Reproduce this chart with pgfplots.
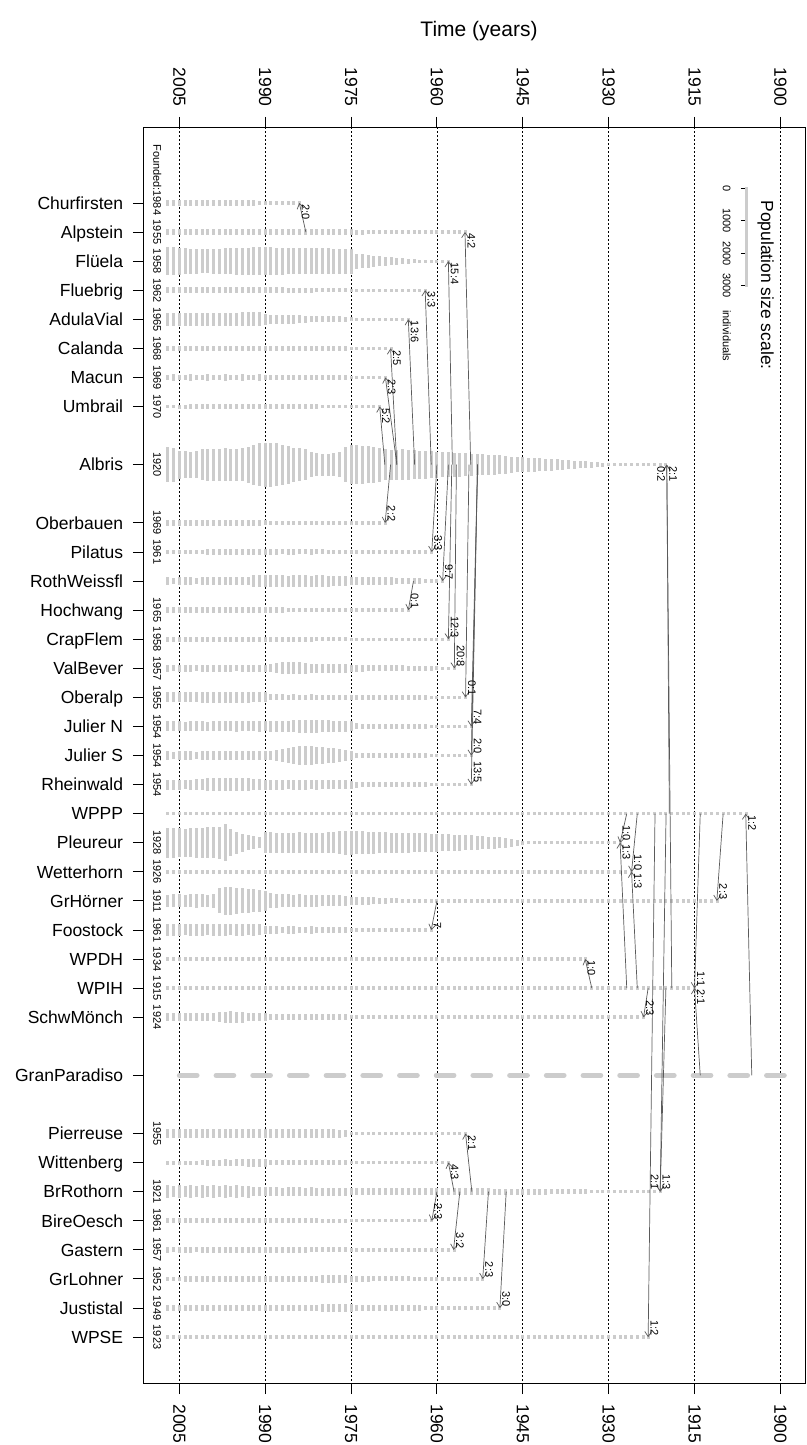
\documentclass[border=0pt]{standalone}
\usepackage{pgfplots}
\pgfplotsset{compat=1.18}
\usepackage{fontspec}
\setmainfont{Liberation Sans}
\usetikzlibrary{arrows.meta}
\definecolor{bargray}{RGB}{204,204,204}
\definecolor{arrgray}{RGB}{90,90,90}
\pgfplotsset{
  base/.style={at={(143.3pt,61.4pt)}, anchor=south west,
    scale only axis, width=661.7pt, height=1256.2pt,
    xmin=1895.7, xmax=2011.3, x dir=reverse,
    ymin=-2.6, ymax=40.6, y dir=reverse},
  popbar/.style={forget plot, draw=bargray, line width=3pt, line cap=rect, solid,
    quiver={u=0, v=\thisrow{n}*0.0011176}},
  arr/.style={forget plot, draw=arrgray, line width=0.7pt, solid, mark=none,
    -{Straight Barb[length=5pt,width=7pt]}},
}
\tikzset{
  lab/.style={font=\fontsize{11}{12}\selectfont, rotate=-90, inner sep=0pt, text=black},
}
% bar from (row - n*SF) to (row + n*SF): 1000 individuals = 32.5 px
\newcommand\SF{0.0005588}
\begin{document}
\begin{tikzpicture}
\useasboundingbox (0,0) rectangle (806pt,1445pt);
% ---------- axis 1: frame, ticks, grid, rows 0-9 ----------
\begin{axis}[base,
  axis line style={line width=0.9pt},
  tick align=outside, major tick length=10.5pt,
  every tick/.style={black, line width=0.9pt},
  xtick={1900,1915,1930,1945,1960,1975,1990,2005},
  xtick pos=left, xticklabel pos=left, ytick pos=left,
  ytick={0,1,2,3,4,5,6,7,9,11,12,13,14,15,16,17,18,19,20,21,22,23,24,25,26,27,28,30,32,33,34,35,36,37,38,39},
  yticklabels={Churfirsten,Alpstein,Flüela,Fluebrig,AdulaVial,Calanda,Macun,Umbrail,Albris,Oberbauen,Pilatus,RothWeissfl,Hochwang,CrapFlem,ValBever,Oberalp,Julier N,Julier S,Rheinwald,WPPP,Pleureur,Wetterhorn,GrHörner,Foostock,WPDH,WPIH,SchwMönch,GranParadiso,Pierreuse,Wittenberg,BrRothorn,BireOesch,Gastern,GrLohner,Justistal,WPSE},
  xmajorgrids, major grid style={black, line width=0.8pt, dash pattern=on 1.2pt off 2.8pt},
  /pgf/number format/1000 sep={}, /pgf/number format/assume math mode=true,
  tick label style={font=\fontsize{17.5}{18}\selectfont},
  xticklabel style={rotate=-90, anchor=west, inner xsep=10pt, inner ysep=0pt},
  yticklabel style={anchor=east, inner xsep=9.5pt, inner ysep=0pt, text height=12.5pt, text depth=0pt},
]
\addplot[popbar] table[row sep=\\, x=yr, y expr=0-\thisrow{n}*\SF]{yr n\\2007 110\\2006 110\\2005 105\\2004 110\\2003 100\\2002 105\\2001 100\\2000 100\\1999 95\\1998 100\\1997 95\\1996 90\\1995 90\\1994 85\\1993 80\\1992 70\\1991 60\\1990 45\\1989 30\\1988 20\\1987 15\\1986 10\\1985 10\\1984 10\\};
\addplot[popbar] table[row sep=\\, x=yr, y expr=1-\thisrow{n}*\SF]{yr n\\2007 110\\2006 105\\2005 110\\2004 105\\2003 100\\2002 105\\2001 110\\2000 105\\1999 100\\1998 105\\1997 110\\1996 105\\1995 100\\1994 105\\1993 110\\1992 105\\1991 100\\1990 105\\1989 100\\1988 100\\1987 95\\1986 100\\1985 95\\1984 95\\1983 90\\1982 95\\1981 90\\1980 90\\1979 85\\1978 85\\1977 80\\1976 80\\1975 70\\1974 65\\1973 60\\1972 55\\1971 50\\1970 40\\1969 30\\1968 20\\1967 15\\1966 15\\1965 15\\1964 15\\1963 15\\1962 15\\1961 15\\1960 15\\1959 15\\1958 15\\1957 15\\1956 15\\1955 15\\};
\addplot[popbar] table[row sep=\\, x=yr, y expr=2-\thisrow{n}*\SF]{yr n\\2007 775\\2006 775\\2005 745\\2004 715\\2003 680\\2002 680\\2001 650\\2000 650\\1999 680\\1998 680\\1997 715\\1996 715\\1995 745\\1994 745\\1993 745\\1992 775\\1991 775\\1990 775\\1989 775\\1988 745\\1987 745\\1986 715\\1985 715\\1984 715\\1983 715\\1982 715\\1981 715\\1980 715\\1979 715\\1978 680\\1977 680\\1976 680\\1975 680\\1974 370\\1973 340\\1972 310\\1971 250\\1970 215\\1969 185\\1968 155\\1967 125\\1966 95\\1965 60\\1964 30\\1963 10\\1962 10\\1961 10\\1960 10\\1959 10\\1958 10\\};
\addplot[popbar] table[row sep=\\, x=yr, y expr=3-\thisrow{n}*\SF]{yr n\\2007 95\\2006 90\\2005 90\\2004 95\\2003 90\\2002 90\\2001 95\\2000 90\\1999 90\\1998 95\\1997 90\\1996 90\\1995 95\\1994 90\\1993 90\\1992 95\\1991 90\\1990 90\\1989 85\\1988 80\\1987 80\\1986 75\\1985 55\\1984 50\\1983 50\\1982 50\\1981 45\\1980 45\\1979 45\\1978 40\\1977 40\\1976 40\\1975 10\\1974 10\\1973 10\\1972 10\\1971 10\\1970 10\\1969 10\\1968 10\\1967 10\\1966 10\\1965 10\\1964 10\\1963 10\\1962 10\\};
\addplot[popbar] table[row sep=\\, x=yr, y expr=4-\thisrow{n}*\SF]{yr n\\2007 310\\2006 300\\2005 320\\2004 310\\2003 290\\2002 300\\2001 310\\2000 320\\1999 310\\1998 300\\1997 310\\1996 320\\1995 310\\1994 330\\1993 340\\1992 340\\1991 330\\1990 230\\1989 200\\1988 185\\1987 185\\1986 175\\1985 170\\1984 160\\1983 110\\1982 100\\1981 95\\1980 95\\1979 90\\1978 90\\1977 85\\1976 80\\1975 20\\1974 15\\1973 15\\1972 15\\1971 15\\1970 15\\1969 15\\1968 15\\1967 15\\1966 15\\1965 15\\};
\addplot[popbar] table[row sep=\\, x=yr, y expr=5-\thisrow{n}*\SF]{yr n\\2007 80\\2006 75\\2005 80\\2004 75\\2003 70\\2002 75\\2001 80\\2000 75\\1999 70\\1998 75\\1997 80\\1996 75\\1995 70\\1994 75\\1993 80\\1992 80\\1991 75\\1990 80\\1989 75\\1988 70\\1987 75\\1986 70\\1985 70\\1984 65\\1983 65\\1982 60\\1981 60\\1980 60\\1979 55\\1978 55\\1977 50\\1976 50\\1975 10\\1974 10\\1973 10\\1972 10\\1971 10\\1970 10\\1969 10\\1968 10\\};
\addplot[popbar] table[row sep=\\, x=yr, y expr=6-\thisrow{n}*\SF]{yr n\\2007 90\\2006 95\\2005 90\\2004 90\\2003 95\\2002 90\\2001 90\\2000 95\\1999 90\\1998 90\\1997 95\\1996 90\\1995 90\\1994 95\\1993 90\\1992 90\\1991 95\\1990 90\\1989 90\\1988 85\\1987 85\\1986 80\\1985 50\\1984 45\\1983 45\\1982 45\\1981 40\\1980 40\\1979 40\\1978 40\\1977 35\\1976 35\\1975 10\\1974 10\\1973 10\\1972 10\\1971 10\\1970 10\\1969 10\\};
\addplot[popbar] table[row sep=\\, x=yr, y expr=7-\thisrow{n}*\SF]{yr n\\2007 25\\2006 25\\2005 30\\2004 30\\2003 60\\2002 65\\2001 65\\2000 60\\1999 65\\1998 65\\1997 60\\1996 65\\1995 70\\1994 70\\1993 75\\1992 75\\1991 80\\1990 80\\1989 75\\1988 70\\1987 65\\1986 65\\1985 60\\1984 60\\1983 55\\1982 50\\1981 45\\1980 10\\1979 10\\1978 10\\1977 10\\1976 10\\1975 10\\1974 10\\1973 10\\1972 10\\1971 10\\1970 10\\};
\addplot[popbar] table[row sep=\\, x=yr, y expr=9-\thisrow{n}*\SF]{yr n\\2007 990\\2006 960\\2005 775\\2004 745\\2003 715\\2002 745\\2001 870\\2000 900\\1999 900\\1998 900\\1997 930\\1996 900\\1995 900\\1994 930\\1993 1025\\1992 1150\\1991 1240\\1990 1270\\1989 1270\\1988 1240\\1987 1150\\1986 1085\\1985 960\\1984 930\\1983 870\\1982 680\\1981 620\\1980 590\\1979 590\\1978 620\\1977 680\\1976 990\\1975 1115\\1974 1115\\1973 1085\\1972 1055\\1971 1025\\1970 960\\1969 870\\1968 835\\1967 835\\1966 870\\1965 835\\1964 805\\1963 775\\1962 775\\1961 745\\1960 715\\1959 680\\1958 680\\1957 650\\1956 650\\1955 620\\1954 590\\1953 560\\1952 560\\1951 525\\1950 525\\1949 495\\1948 465\\1947 405\\1946 370\\1945 370\\1944 340\\1943 340\\1942 310\\1941 280\\1940 280\\1939 250\\1938 215\\1937 185\\1936 155\\1935 125\\1934 125\\1933 95\\1932 60\\1931 30\\1930 10\\1929 10\\1928 10\\1927 10\\1926 10\\1925 10\\1924 10\\1923 10\\1922 10\\1921 10\\1920 10\\};
\end{axis}
% ---------- axis 2: rows 11-20 ----------
\begin{axis}[base, hide axis]
\addplot[popbar] table[row sep=\\, x=yr, y expr=11-\thisrow{n}*\SF]{yr n\\2007 75\\2006 70\\2005 75\\2004 80\\2003 75\\2002 70\\2001 75\\2000 80\\1999 80\\1998 75\\1997 80\\1996 85\\1995 90\\1994 90\\1993 85\\1992 80\\1991 70\\1990 60\\1989 45\\1988 35\\1987 12\\1986 12\\1985 12\\1984 12\\1983 12\\1982 12\\1981 12\\1980 12\\1979 12\\1978 12\\1977 12\\1976 12\\1975 12\\1974 12\\1973 12\\1972 12\\1971 12\\1970 12\\1969 12\\};
\addplot[popbar] table[row sep=\\, x=yr, y expr=12-\thisrow{n}*\SF]{yr n\\2007 35\\2006 30\\2005 35\\2004 30\\2003 40\\2002 45\\2001 55\\2000 65\\1999 65\\1998 70\\1997 65\\1996 70\\1995 75\\1994 75\\1993 80\\1992 75\\1991 70\\1990 70\\1989 65\\1988 65\\1987 60\\1986 65\\1985 65\\1984 60\\1983 60\\1982 65\\1981 60\\1980 60\\1979 55\\1978 55\\1977 50\\1976 50\\1975 10\\1974 10\\1973 10\\1972 10\\1971 10\\1970 10\\1969 10\\1968 10\\1967 10\\1966 10\\1965 10\\1964 10\\1963 10\\1962 10\\1961 10\\};
\addplot[popbar] table[row sep=\\, x=yr, y expr=13-\thisrow{n}*\SF]{yr n\\2007 125\\2006 120\\2005 125\\2004 130\\2003 125\\2002 120\\2001 125\\2000 130\\1999 125\\1998 130\\1997 125\\1996 130\\1995 135\\1994 140\\1993 150\\1992 250\\1991 290\\1990 280\\1989 260\\1988 250\\1987 250\\1986 245\\1985 250\\1984 255\\1983 250\\1982 245\\1981 250\\1980 250\\1979 245\\1978 240\\1977 240\\1976 235\\1975 165\\1974 160\\1973 155\\1972 150\\1971 150\\1970 145\\1969 140\\1968 135\\1967 95\\1966 90\\1965 85\\1964 80\\1963 70\\1962 30\\1961 25\\1960 20\\1959 15\\};
\addplot[popbar] table[row sep=\\, x=yr, y expr=14-\thisrow{n}*\SF]{yr n\\2007 80\\2006 75\\2005 80\\2004 85\\2003 80\\2002 75\\2001 80\\2000 85\\1999 80\\1998 75\\1997 80\\1996 85\\1995 80\\1994 80\\1993 85\\1992 80\\1991 80\\1990 75\\1989 75\\1988 70\\1987 70\\1986 45\\1985 40\\1984 40\\1983 40\\1982 40\\1981 40\\1980 35\\1979 35\\1978 35\\1977 35\\1976 30\\1975 10\\1974 10\\1973 10\\1972 10\\1971 10\\1970 10\\1969 10\\1968 10\\1967 10\\1966 10\\1965 10\\};
\addplot[popbar] table[row sep=\\, x=yr, y expr=15-\thisrow{n}*\SF]{yr n\\2007 65\\2006 60\\2005 65\\2004 65\\2003 60\\2002 65\\2001 70\\2000 65\\1999 60\\1998 65\\1997 70\\1996 65\\1995 65\\1994 70\\1993 70\\1992 65\\1991 65\\1990 70\\1989 65\\1988 60\\1987 65\\1986 60\\1985 60\\1984 55\\1983 55\\1982 55\\1981 50\\1980 50\\1979 50\\1978 45\\1977 45\\1976 45\\1975 10\\1974 10\\1973 10\\1972 10\\1971 10\\1970 10\\1969 10\\1968 10\\1967 10\\1966 10\\1965 10\\1964 10\\1963 10\\1962 10\\1961 10\\1960 10\\1959 10\\1958 10\\};
\addplot[popbar] table[row sep=\\, x=yr, y expr=16-\thisrow{n}*\SF]{yr n\\2007 110\\2006 105\\2005 110\\2004 115\\2003 110\\2002 105\\2001 110\\2000 115\\1999 110\\1998 110\\1997 115\\1996 110\\1995 105\\1994 110\\1993 115\\1992 120\\1991 125\\1990 130\\1989 150\\1988 220\\1987 265\\1986 275\\1985 280\\1984 270\\1983 260\\1982 200\\1981 190\\1980 190\\1979 185\\1978 180\\1977 180\\1976 175\\1975 115\\1974 110\\1973 110\\1972 105\\1971 105\\1970 100\\1969 100\\1968 95\\1967 95\\1966 90\\1965 65\\1964 60\\1963 60\\1962 55\\1961 50\\1960 45\\1959 15\\1958 15\\1957 15\\};
\addplot[popbar] table[row sep=\\, x=yr, y expr=17-\thisrow{n}*\SF]{yr n\\2007 215\\2006 210\\2005 215\\2004 220\\2003 215\\2002 225\\2001 235\\2000 250\\1999 255\\1998 250\\1997 245\\1996 250\\1995 240\\1994 235\\1993 230\\1992 220\\1991 215\\1990 210\\1989 90\\1988 85\\1987 85\\1986 80\\1985 85\\1984 80\\1983 80\\1982 85\\1981 80\\1980 80\\1979 80\\1978 75\\1977 80\\1976 75\\1975 75\\1974 70\\1973 70\\1972 70\\1971 65\\1970 65\\1969 65\\1968 60\\1967 60\\1966 55\\1965 55\\1964 50\\1963 45\\1962 45\\1961 15\\1960 15\\1959 15\\1958 15\\1957 15\\1956 15\\1955 15\\};
\addplot[popbar] table[row sep=\\, x=yr, y expr=18-\thisrow{n}*\SF]{yr n\\2007 215\\2006 220\\2005 215\\2004 210\\2003 215\\2002 220\\2001 215\\2000 210\\1999 215\\1998 220\\1997 215\\1996 220\\1995 225\\1994 220\\1993 215\\1992 220\\1991 225\\1990 220\\1989 225\\1988 230\\1987 240\\1986 260\\1985 275\\1984 285\\1983 290\\1982 290\\1981 285\\1980 280\\1979 275\\1978 270\\1977 260\\1976 230\\1975 215\\1974 90\\1973 85\\1972 85\\1971 80\\1970 80\\1969 80\\1968 75\\1967 75\\1966 70\\1965 70\\1964 65\\1963 60\\1962 55\\1961 15\\1960 15\\1959 15\\1958 15\\1957 15\\1956 15\\1955 15\\1954 15\\};
\addplot[popbar] table[row sep=\\, x=yr, y expr=19-\thisrow{n}*\SF]{yr n\\2007 155\\2006 150\\2005 155\\2004 160\\2003 155\\2002 150\\2001 155\\2000 160\\1999 165\\1998 160\\1997 155\\1996 160\\1995 165\\1994 170\\1993 180\\1992 185\\1991 185\\1990 190\\1989 200\\1988 230\\1987 280\\1986 370\\1985 435\\1984 465\\1983 470\\1982 465\\1981 435\\1980 405\\1979 370\\1978 340\\1977 310\\1976 250\\1975 185\\1974 90\\1973 85\\1972 85\\1971 80\\1970 80\\1969 80\\1968 75\\1967 75\\1966 70\\1965 70\\1964 65\\1963 60\\1962 55\\1961 15\\1960 15\\1959 15\\1958 15\\1957 15\\1956 15\\1955 15\\1954 15\\};
\addplot[popbar] table[row sep=\\, x=yr, y expr=20-\thisrow{n}*\SF]{yr n\\2007 215\\2006 220\\2005 215\\2004 210\\2003 220\\2002 225\\2001 240\\2000 290\\1999 310\\1998 320\\1997 315\\1996 310\\1995 305\\1994 300\\1993 290\\1992 240\\1991 225\\1990 220\\1989 215\\1988 220\\1987 215\\1986 210\\1985 215\\1984 220\\1983 215\\1982 210\\1981 215\\1980 210\\1979 205\\1978 210\\1977 205\\1976 200\\1975 150\\1974 90\\1973 85\\1972 85\\1971 80\\1970 80\\1969 80\\1968 75\\1967 75\\1966 70\\1965 70\\1964 65\\1963 60\\1962 55\\1961 15\\1960 15\\1959 15\\1958 15\\1957 15\\1956 15\\1955 15\\1954 15\\};
\end{axis}
% ---------- axis 3: rows 21-25 ----------
\begin{axis}[base, hide axis]
\addplot[popbar] table[row sep=\\, x=yr, y expr=21-\thisrow{n}*\SF]{yr n\\2007 10\\2006 10\\2005 10\\2004 10\\2003 10\\2002 10\\2001 10\\2000 10\\1999 10\\1998 10\\1997 10\\1996 10\\1995 10\\1994 10\\1993 10\\1992 10\\1991 10\\1990 10\\1989 10\\1988 10\\1987 10\\1986 10\\1985 10\\1984 10\\1983 10\\1982 10\\1981 10\\1980 10\\1979 10\\1978 10\\1977 10\\1976 10\\1975 10\\1974 10\\1973 10\\1972 10\\1971 10\\1970 10\\1969 10\\1968 10\\1967 10\\1966 10\\1965 10\\1964 10\\1963 10\\1962 10\\1961 10\\1960 10\\1959 10\\1958 10\\1957 10\\1956 10\\1955 10\\1954 10\\1953 10\\1952 10\\1951 10\\1950 10\\1949 10\\1948 10\\1947 10\\1946 10\\1945 10\\1944 10\\1943 10\\1942 10\\1941 10\\1940 10\\1939 10\\1938 10\\1937 10\\1936 10\\1935 10\\1934 10\\1933 10\\1932 10\\1931 10\\1930 10\\1929 10\\1928 10\\1927 10\\1926 10\\1925 10\\1924 10\\1923 10\\1922 10\\1921 10\\1920 10\\1919 10\\1918 10\\1917 10\\1916 10\\1915 10\\1914 10\\1913 10\\1912 10\\1911 10\\1910 10\\1909 10\\1908 10\\1907 10\\1906 10\\};
\addplot[popbar] table[row sep=\\, x=yr, y expr=22-\thisrow{n}*\SF]{yr n\\2007 835\\2006 835\\2005 805\\2004 775\\2003 805\\2002 835\\2001 835\\2000 870\\1999 870\\1998 900\\1997 1055\\1996 745\\1995 590\\1994 465\\1993 370\\1992 310\\1991 250\\1990 560\\1989 540\\1988 520\\1987 530\\1986 510\\1985 525\\1984 540\\1983 520\\1982 530\\1981 515\\1980 525\\1979 540\\1978 560\\1977 620\\1976 650\\1975 650\\1974 620\\1973 620\\1972 590\\1971 590\\1970 560\\1969 560\\1968 525\\1967 525\\1966 525\\1965 525\\1964 495\\1963 495\\1962 495\\1961 465\\1960 465\\1959 435\\1958 435\\1957 405\\1956 405\\1955 370\\1954 370\\1953 340\\1952 310\\1951 280\\1950 280\\1949 250\\1948 215\\1947 155\\1946 95\\1945 30\\1944 10\\1943 10\\1942 10\\1941 10\\1940 10\\1939 10\\1938 10\\1937 10\\1936 10\\1935 10\\1934 10\\1933 10\\1932 10\\1931 10\\1930 10\\1929 10\\1928 10\\};
\addplot[popbar] table[row sep=\\, x=yr, y expr=23-\thisrow{n}*\SF]{yr n\\2007 15\\2006 15\\2005 15\\2004 15\\2003 15\\2002 15\\2001 15\\2000 15\\1999 15\\1998 15\\1997 15\\1996 15\\1995 15\\1994 15\\1993 15\\1992 15\\1991 15\\1990 15\\1989 15\\1988 15\\1987 15\\1986 15\\1985 15\\1984 15\\1983 15\\1982 15\\1981 15\\1980 15\\1979 15\\1978 15\\1977 15\\1976 15\\1975 15\\1974 15\\1973 15\\1972 15\\1971 15\\1970 15\\1969 15\\1968 15\\1967 15\\1966 15\\1965 15\\1964 15\\1963 15\\1962 15\\1961 15\\1960 15\\1959 15\\1958 15\\1957 15\\1956 15\\1955 15\\1954 15\\1953 15\\1952 15\\1951 15\\1950 15\\1949 15\\1948 15\\1947 15\\1946 15\\1945 15\\1944 15\\1943 15\\1942 15\\1941 15\\1940 15\\1939 15\\1938 15\\1937 15\\1936 15\\1935 15\\1934 15\\1933 15\\1932 15\\1931 15\\1930 15\\1929 15\\1928 15\\1927 15\\1926 15\\};
\addplot[popbar] table[row sep=\\, x=yr, y expr=24-\thisrow{n}*\SF]{yr n\\2007 280\\2006 310\\2005 310\\2004 300\\2003 310\\2002 320\\2001 310\\2000 300\\1999 320\\1998 680\\1997 745\\1996 760\\1995 715\\1994 680\\1993 650\\1992 620\\1991 590\\1990 525\\1989 370\\1988 320\\1987 310\\1986 310\\1985 300\\1984 310\\1983 300\\1982 290\\1981 260\\1980 250\\1979 250\\1978 245\\1977 240\\1976 230\\1975 160\\1974 150\\1973 140\\1972 130\\1971 125\\1970 110\\1969 70\\1968 65\\1967 60\\1966 55\\1965 35\\1964 30\\1963 30\\1962 25\\1961 25\\1960 20\\1959 15\\1958 15\\1957 15\\1956 15\\1955 15\\1954 15\\1953 15\\1952 15\\1951 15\\1950 15\\1949 15\\1948 15\\1947 15\\1946 15\\1945 15\\1944 15\\1943 15\\1942 15\\1941 15\\1940 15\\1939 15\\1938 15\\1937 15\\1936 15\\1935 15\\1934 15\\1933 15\\1932 15\\1931 15\\1930 15\\1929 15\\1928 15\\1927 15\\1926 15\\1925 15\\1924 15\\1923 15\\1922 15\\1921 15\\1920 15\\1919 15\\1918 15\\1917 15\\1916 15\\1915 15\\1914 15\\1913 15\\1912 15\\1911 15\\};
\addplot[popbar] table[row sep=\\, x=yr, y expr=25-\thisrow{n}*\SF]{yr n\\2007 280\\2006 265\\2005 250\\2004 245\\2003 250\\2002 255\\2001 250\\2000 245\\1999 250\\1998 255\\1997 250\\1996 245\\1995 250\\1994 250\\1993 245\\1992 250\\1991 245\\1990 130\\1989 125\\1988 125\\1987 120\\1986 125\\1985 125\\1984 120\\1983 120\\1982 125\\1981 120\\1980 115\\1979 115\\1978 110\\1977 110\\1976 105\\1975 15\\1974 15\\1973 15\\1972 15\\1971 15\\1970 15\\1969 15\\1968 15\\1967 15\\1966 15\\1965 15\\1964 15\\1963 15\\1962 15\\1961 15\\};
\end{axis}
% ---------- axis 4: rows 26-33 ----------
\begin{axis}[base, hide axis]
\addplot[popbar] table[row sep=\\, x=yr, y expr=26-\thisrow{n}*\SF]{yr n\\2007 10\\2006 10\\2005 10\\2004 10\\2003 10\\2002 10\\2001 10\\2000 10\\1999 10\\1998 10\\1997 10\\1996 10\\1995 10\\1994 10\\1993 10\\1992 10\\1991 10\\1990 10\\1989 10\\1988 10\\1987 10\\1986 10\\1985 10\\1984 10\\1983 10\\1982 10\\1981 10\\1980 10\\1979 10\\1978 10\\1977 10\\1976 10\\1975 10\\1974 10\\1973 10\\1972 10\\1971 10\\1970 10\\1969 10\\1968 10\\1967 10\\1966 10\\1965 10\\1964 10\\1963 10\\1962 10\\1961 10\\1960 10\\1959 10\\1958 10\\1957 10\\1956 10\\1955 10\\1954 10\\1953 10\\1952 10\\1951 10\\1950 10\\1949 10\\1948 10\\1947 10\\1946 10\\1945 10\\1944 10\\1943 10\\1942 10\\1941 10\\1940 10\\1939 10\\1938 10\\1937 10\\1936 10\\1935 10\\1934 10\\};
\addplot[popbar] table[row sep=\\, x=yr, y expr=27-\thisrow{n}*\SF]{yr n\\2007 10\\2006 10\\2005 10\\2004 10\\2003 10\\2002 10\\2001 10\\2000 10\\1999 10\\1998 10\\1997 10\\1996 10\\1995 10\\1994 10\\1993 10\\1992 10\\1991 10\\1990 10\\1989 10\\1988 10\\1987 10\\1986 10\\1985 10\\1984 10\\1983 10\\1982 10\\1981 10\\1980 10\\1979 10\\1978 10\\1977 10\\1976 10\\1975 10\\1974 10\\1973 10\\1972 10\\1971 10\\1970 10\\1969 10\\1968 10\\1967 10\\1966 10\\1965 10\\1964 10\\1963 10\\1962 10\\1961 10\\1960 10\\1959 10\\1958 10\\1957 10\\1956 10\\1955 10\\1954 10\\1953 10\\1952 10\\1951 10\\1950 10\\1949 10\\1948 10\\1947 10\\1946 10\\1945 10\\1944 10\\1943 10\\1942 10\\1941 10\\1940 10\\1939 10\\1938 10\\1937 10\\1936 10\\1935 10\\1934 10\\1933 10\\1932 10\\1931 10\\1930 10\\1929 10\\1928 10\\1927 10\\1926 10\\1925 10\\1924 10\\1923 10\\1922 10\\1921 10\\1920 10\\1919 10\\1918 10\\1917 10\\1916 10\\1915 10\\};
\addplot[popbar] table[row sep=\\, x=yr, y expr=28-\thisrow{n}*\SF]{yr n\\2007 155\\2006 150\\2005 155\\2004 160\\2003 155\\2002 150\\2001 155\\2000 160\\1999 165\\1998 230\\1997 250\\1996 260\\1995 255\\1994 240\\1993 170\\1992 160\\1991 155\\1990 150\\1989 95\\1988 95\\1987 90\\1986 95\\1985 95\\1984 90\\1983 90\\1982 95\\1981 90\\1980 85\\1979 85\\1978 80\\1977 80\\1976 75\\1975 15\\1974 15\\1973 15\\1972 15\\1971 15\\1970 15\\1969 15\\1968 15\\1967 15\\1966 15\\1965 15\\1964 15\\1963 15\\1962 15\\1961 15\\1960 15\\1959 15\\1958 15\\1957 15\\1956 15\\1955 15\\1954 15\\1953 15\\1952 15\\1951 15\\1950 15\\1949 15\\1948 15\\1947 15\\1946 15\\1945 15\\1944 15\\1943 15\\1942 15\\1941 15\\1940 15\\1939 15\\1938 15\\1937 15\\1936 15\\1935 15\\1934 15\\1933 15\\1932 15\\1931 15\\1930 15\\1929 15\\1928 15\\1927 15\\1926 15\\1925 15\\1924 15\\};
\addplot[forget plot, draw=bargray, line width=5pt, line cap=round, dash pattern=on 17.7pt off 19pt] coordinates {(2005,30) (1899,30)};
\addplot[popbar] table[row sep=\\, x=yr, y expr=32-\thisrow{n}*\SF]{yr n\\2007 185\\2006 190\\2005 185\\2004 180\\2003 185\\2002 190\\2001 185\\2000 180\\1999 185\\1998 190\\1997 195\\1996 190\\1995 185\\1994 190\\1993 195\\1992 190\\1991 185\\1990 180\\1989 185\\1988 180\\1987 175\\1986 180\\1985 175\\1984 170\\1983 175\\1982 170\\1981 165\\1980 165\\1979 160\\1978 160\\1977 155\\1976 150\\1975 20\\1974 12\\1973 12\\1972 12\\1971 12\\1970 12\\1969 12\\1968 12\\1967 12\\1966 12\\1965 12\\1964 12\\1963 12\\1962 12\\1961 12\\1960 12\\1959 12\\1958 12\\1957 12\\1956 12\\1955 12\\};
\addplot[popbar] table[row sep=\\, x=yr, y expr=33-\thisrow{n}*\SF]{yr n\\2007 30\\2006 25\\2005 30\\2004 35\\2003 30\\2002 35\\2001 40\\2000 95\\1999 90\\1998 95\\1997 100\\1996 95\\1995 100\\1994 105\\1993 150\\1992 160\\1991 155\\1990 150\\1989 65\\1988 60\\1987 65\\1986 60\\1985 60\\1984 55\\1983 60\\1982 55\\1981 55\\1980 50\\1979 50\\1978 50\\1977 45\\1976 45\\1975 10\\1974 10\\1973 10\\1972 10\\1971 10\\1970 10\\1969 10\\1968 10\\1967 10\\1966 10\\1965 10\\1964 10\\1963 10\\1962 10\\1961 10\\1960 10\\1959 10\\1958 10\\};
\end{axis}
% ---------- axis 5: rows 34-39 and scale bar ----------
\begin{axis}[base, hide axis]
\addplot[popbar] table[row sep=\\, x=yr, y expr=34-\thisrow{n}*\SF]{yr n\\2007 300\\2006 250\\2005 310\\2004 260\\2003 300\\2002 250\\2001 310\\2000 260\\1999 300\\1998 250\\1997 300\\1996 260\\1995 290\\1994 250\\1993 280\\1992 180\\1991 175\\1990 170\\1989 175\\1988 170\\1987 165\\1986 170\\1985 175\\1984 170\\1983 165\\1982 170\\1981 165\\1980 160\\1979 165\\1978 160\\1977 155\\1976 155\\1975 135\\1974 130\\1973 130\\1972 125\\1971 130\\1970 125\\1969 125\\1968 120\\1967 125\\1966 120\\1965 125\\1964 120\\1963 120\\1962 115\\1961 120\\1960 115\\1959 115\\1958 110\\1957 115\\1956 110\\1955 110\\1954 105\\1953 110\\1952 105\\1951 105\\1950 100\\1949 100\\1948 100\\1947 95\\1946 95\\1945 95\\1944 90\\1943 90\\1942 85\\1941 85\\1940 80\\1939 80\\1938 75\\1937 75\\1936 70\\1935 60\\1934 50\\1933 10\\1932 10\\1931 10\\1930 10\\1929 10\\1928 10\\1927 10\\1926 10\\1925 10\\1924 10\\1923 10\\1922 10\\1921 10\\};
\addplot[popbar] table[row sep=\\, x=yr, y expr=35-\thisrow{n}*\SF]{yr n\\2007 60\\2006 55\\2005 60\\2004 65\\2003 60\\2002 55\\2001 60\\2000 65\\1999 60\\1998 60\\1997 65\\1996 60\\1995 55\\1994 60\\1993 65\\1992 60\\1991 60\\1990 65\\1989 60\\1988 55\\1987 60\\1986 55\\1985 55\\1984 50\\1983 55\\1982 50\\1981 50\\1980 45\\1979 45\\1978 45\\1977 40\\1976 40\\1975 10\\1974 10\\1973 10\\1972 10\\1971 10\\1970 10\\1969 10\\1968 10\\1967 10\\1966 10\\1965 10\\1964 10\\1963 10\\1962 10\\1961 10\\};
\addplot[popbar] table[row sep=\\, x=yr, y expr=36-\thisrow{n}*\SF]{yr n\\2007 75\\2006 70\\2005 75\\2004 80\\2003 75\\2002 70\\2001 75\\2000 80\\1999 75\\1998 80\\1997 85\\1996 80\\1995 85\\1994 90\\1993 90\\1992 95\\1991 95\\1990 90\\1989 95\\1988 90\\1987 85\\1986 85\\1985 80\\1984 75\\1983 75\\1982 70\\1981 70\\1980 65\\1979 65\\1978 60\\1977 60\\1976 55\\1975 10\\1974 10\\1973 10\\1972 10\\1971 10\\1970 10\\1969 10\\1968 10\\1967 10\\1966 10\\1965 10\\1964 10\\1963 10\\1962 10\\1961 10\\1960 10\\1959 10\\1958 10\\1957 10\\};
\addplot[popbar] table[row sep=\\, x=yr, y expr=37-\thisrow{n}*\SF]{yr n\\2007 30\\2006 30\\2005 35\\2004 75\\2003 80\\2002 75\\2001 80\\2000 85\\1999 80\\1998 75\\1997 80\\1996 85\\1995 80\\1994 80\\1993 85\\1992 80\\1991 75\\1990 80\\1989 85\\1988 80\\1987 80\\1986 85\\1985 85\\1984 90\\1983 90\\1982 95\\1981 100\\1980 150\\1979 160\\1978 155\\1977 150\\1976 145\\1975 75\\1974 70\\1973 70\\1972 70\\1971 65\\1970 65\\1969 65\\1968 60\\1967 60\\1966 60\\1965 60\\1964 55\\1963 55\\1962 50\\1961 50\\1960 10\\1959 10\\1958 10\\1957 10\\1956 10\\1955 10\\1954 10\\1953 10\\1952 10\\};
\addplot[popbar] table[row sep=\\, x=yr, y expr=38-\thisrow{n}*\SF]{yr n\\2007 80\\2006 75\\2005 80\\2004 85\\2003 80\\2002 75\\2001 80\\2000 85\\1999 80\\1998 80\\1997 85\\1996 80\\1995 75\\1994 80\\1993 85\\1992 85\\1991 80\\1990 85\\1989 80\\1988 80\\1987 85\\1986 80\\1985 80\\1984 85\\1983 90\\1982 95\\1981 100\\1980 150\\1979 160\\1978 160\\1977 155\\1976 150\\1975 140\\1974 100\\1973 95\\1972 95\\1971 95\\1970 90\\1969 90\\1968 90\\1967 85\\1966 85\\1965 80\\1964 75\\1963 70\\1962 60\\1961 55\\1960 50\\1959 45\\1958 10\\1957 10\\1956 10\\1955 10\\1954 10\\1953 10\\1952 10\\1951 10\\1950 10\\1949 10\\};
\addplot[popbar] table[row sep=\\, x=yr, y expr=39-\thisrow{n}*\SF]{yr n\\2007 10\\2006 10\\2005 10\\2004 10\\2003 10\\2002 10\\2001 10\\2000 10\\1999 10\\1998 10\\1997 10\\1996 10\\1995 10\\1994 10\\1993 10\\1992 10\\1991 10\\1990 10\\1989 10\\1988 10\\1987 10\\1986 10\\1985 10\\1984 10\\1983 10\\1982 10\\1981 10\\1980 10\\1979 10\\1978 10\\1977 10\\1976 10\\1975 10\\1974 10\\1973 10\\1972 10\\1971 10\\1970 10\\1969 10\\1968 10\\1967 10\\1966 10\\1965 10\\1964 10\\1963 10\\1962 10\\1961 10\\1960 10\\1959 10\\1958 10\\1957 10\\1956 10\\1955 10\\1954 10\\1953 10\\1952 10\\1951 10\\1950 10\\1949 10\\1948 10\\1947 10\\1946 10\\1945 10\\1944 10\\1943 10\\1942 10\\1941 10\\1940 10\\1939 10\\1938 10\\1937 10\\1936 10\\1935 10\\1934 10\\1933 10\\1932 10\\1931 10\\1930 10\\1929 10\\1928 10\\1927 10\\1926 10\\1925 10\\1924 10\\1923 10\\};
\addplot[popbar] table[row sep=\\, x=yr, y expr=1.1705-\thisrow{n}*\SF]{yr n\\1906.0 3000\\};
\end{axis}
% ---------- axis 6: legend text, arrows, labels ----------
\begin{axis}[base, hide axis]
\draw[black, line width=0.9pt] (axis cs:1906.92,-0.506) -- (axis cs:1906.17,-0.506);
\draw[black, line width=0.9pt] (axis cs:1906.92,0.612) -- (axis cs:1906.17,0.612);
\draw[black, line width=0.9pt] (axis cs:1906.92,1.729) -- (axis cs:1906.17,1.729);
\draw[black, line width=0.9pt] (axis cs:1906.92,2.847) -- (axis cs:1906.17,2.847);
\node[lab, anchor=base] at (axis cs:1910.05,-0.506) {0};
\node[lab, anchor=base] at (axis cs:1910.05,0.612) {1000};
\node[lab, anchor=base] at (axis cs:1910.05,1.729) {2000};
\node[lab, anchor=base] at (axis cs:1910.05,2.847) {3000};
\node[lab, anchor=base] at (axis cs:1910.05,4.567) {individuals};
\node[font=\fontsize{17.5}{18}\selectfont, rotate=-90, inner sep=0pt, anchor=base] at (axis cs:1903.38,2.82) {Population size scale:};
\addplot[arr] coordinates {(1982.9,1) (1984.04,0)};
\addplot[arr] coordinates {(1954.1,9) (1955.1,1)};
\addplot[arr] coordinates {(1957.3,9) (1958.0,2)};
\addplot[arr] coordinates {(1961.0,9) (1962.05,3)};
\addplot[arr] coordinates {(1963.9,9) (1965.0,4)};
\addplot[arr] coordinates {(1967.0,9) (1968.1,5)};
\addplot[arr] coordinates {(1967.0,9) (1969.0,6)};
\addplot[arr] coordinates {(1969.1,9) (1970.0,7)};
\addplot[arr] coordinates {(1968.1,9) (1969.05,11)};
\addplot[arr] coordinates {(1960.0,9) (1960.9,12)};
\addplot[arr] coordinates {(1958.0,9) (1959.0,13)};
\addplot[arr] coordinates {(1964.1,13) (1965.0,14)};
\addplot[arr] coordinates {(1957.4,9) (1958.0,15)};
\addplot[arr] coordinates {(1956.6,9) (1956.96,16)};
\addplot[arr] coordinates {(1954.4,9) (1955.0,17)};
\addplot[arr] coordinates {(1952.9,9) (1954.0,18)};
\addplot[arr] coordinates {(1952.9,9) (1954.0,19)};
\addplot[arr] coordinates {(1952.9,9) (1954.0,20)};
\addplot[arr] coordinates {(1919.4,21) (1919.85,9)};
\addplot[arr] coordinates {(1918.97,27) (1919.85,9)};
\addplot[arr] coordinates {(1905.0,30) (1906.05,21)};
\addplot[arr] coordinates {(1926.84,21) (1928.0,22)};
\addplot[arr] coordinates {(1926.84,27) (1928.0,22)};
\addplot[arr] coordinates {(1925.0,21) (1926.0,23)};
\addplot[arr] coordinates {(1925.0,27) (1926.0,23)};
\addplot[arr] coordinates {(1910.0,21) (1911.1,24)};
\addplot[arr] coordinates {(1960.0,24) (1961.0,25)};
\addplot[arr] coordinates {(1932.95,27) (1934.1,26)};
\addplot[arr] coordinates {(1914.0,21) (1915.0,27)};
\addplot[arr] coordinates {(1914.0,30) (1915.0,27)};
\addplot[arr] coordinates {(1923.1,27) (1923.9,28)};
\addplot[arr] coordinates {(1953.9,34) (1955.0,32)};
\addplot[arr] coordinates {(1957.0,34) (1958.0,33)};
\addplot[arr] coordinates {(1919.97,21) (1921.0,34)};
\addplot[arr] coordinates {(1920.0,27) (1921.0,34)};
\addplot[arr] coordinates {(1960.0,34) (1960.9,35)};
\addplot[arr] coordinates {(1956.0,34) (1957.1,36)};
\addplot[arr] coordinates {(1951.0,34) (1952.0,37)};
\addplot[arr] coordinates {(1947.9,34) (1949.0,38)};
\addplot[arr] coordinates {(1921.9,21) (1923.1,39)};
\node[lab, anchor=base west] at (axis cs:1983.60,0.05) {2:0};
\node[lab, anchor=base west] at (axis cs:1954.66,1.05) {4:2};
\node[lab, anchor=base west] at (axis cs:1957.56,2.05) {15:4};
\node[lab, anchor=base west] at (axis cs:1961.61,3.05) {3:3};
\node[lab, anchor=base west] at (axis cs:1964.56,4.05) {13:6};
\node[lab, anchor=base west] at (axis cs:1967.66,5.05) {2:5};
\node[lab, anchor=base west] at (axis cs:1968.56,6.05) {2:3};
\node[lab, anchor=base west] at (axis cs:1969.56,7.05) {5:2};
\node[lab, anchor=base west] at (axis cs:1919.41,9.05) {2:1};
\node[lab, anchor=north west] at (axis cs:1920.11,9.05) {0:2};
\node[lab, anchor=base east] at (axis cs:1968.61,10.95) {2:2};
\node[lab, anchor=base east] at (axis cs:1960.46,11.95) {3:3};
\node[lab, anchor=base east] at (axis cs:1958.56,12.95) {9:7};
\node[lab, anchor=base east] at (axis cs:1964.56,13.95) {0:1};
\node[lab, anchor=base east] at (axis cs:1957.56,14.95) {12:3};
\node[lab, anchor=base east] at (axis cs:1956.52,15.95) {20:8};
\node[lab, anchor=base east] at (axis cs:1954.56,16.95) {0:1};
\node[lab, anchor=base east] at (axis cs:1953.56,17.95) {7:4};
\node[lab, anchor=base east] at (axis cs:1953.56,18.95) {2:0};
\node[lab, anchor=base east] at (axis cs:1953.56,19.95) {13:5};
\node[lab, anchor=base west] at (axis cs:1905.61,21.05) {1:2};
\node[lab, anchor=base east] at (axis cs:1927.56,21.95) {1:0};
\node[lab, anchor=base west] at (axis cs:1927.56,22.05) {1:3};
\node[lab, anchor=base east] at (axis cs:1925.56,22.95) {1:0};
\node[lab, anchor=base west] at (axis cs:1925.56,23.05) {1:3};
\node[lab, anchor=base east] at (axis cs:1910.66,23.95) {2:3};
\node[lab, anchor=base east] at (axis cs:1960.56,24.95) {7};
\node[lab, anchor=base west] at (axis cs:1933.66,26.05) {1:0};
\node[lab, anchor=base east] at (axis cs:1914.56,26.95) {1:1};
\node[lab, anchor=base west] at (axis cs:1914.56,27.05) {2:1};
\node[lab, anchor=base east] at (axis cs:1923.46,27.95) {2:3};
\node[lab, anchor=base west] at (axis cs:1954.56,32.05) {2:1};
\node[lab, anchor=base west] at (axis cs:1957.56,33.05) {4:3};
\node[lab, anchor=base east] at (axis cs:1920.56,33.95) {1:3};
\node[lab, anchor=north east] at (axis cs:1921.26,33.95) {2:1};
\node[lab, anchor=base east] at (axis cs:1960.46,34.95) {2:3};
\node[lab, anchor=base east] at (axis cs:1956.66,35.95) {3:2};
\node[lab, anchor=base east] at (axis cs:1951.56,36.95) {2:3};
\node[lab, anchor=base east] at (axis cs:1948.56,37.95) {3:0};
\node[lab, anchor=base east] at (axis cs:1922.66,38.95) {1:2};
\node[lab, anchor=base] at (axis cs:2009.52,0) {\llap{Founded:}1984};
\node[lab, anchor=base] at (axis cs:2009.52,1) {1955};
\node[lab, anchor=base] at (axis cs:2009.52,2) {1958};
\node[lab, anchor=base] at (axis cs:2009.52,3) {1962};
\node[lab, anchor=base] at (axis cs:2009.52,4) {1965};
\node[lab, anchor=base] at (axis cs:2009.52,5) {1968};
\node[lab, anchor=base] at (axis cs:2009.52,6) {1969};
\node[lab, anchor=base] at (axis cs:2009.52,7) {1970};
\node[lab, anchor=base] at (axis cs:2009.52,9) {1920};
\node[lab, anchor=base] at (axis cs:2009.52,11) {1969};
\node[lab, anchor=base] at (axis cs:2009.52,12) {1961};
\node[lab, anchor=base] at (axis cs:2009.52,14) {1965};
\node[lab, anchor=base] at (axis cs:2009.52,15) {1958};
\node[lab, anchor=base] at (axis cs:2009.52,16) {1957};
\node[lab, anchor=base] at (axis cs:2009.52,17) {1955};
\node[lab, anchor=base] at (axis cs:2009.52,18) {1954};
\node[lab, anchor=base] at (axis cs:2009.52,19) {1954};
\node[lab, anchor=base] at (axis cs:2009.52,20) {1954};
\node[lab, anchor=base] at (axis cs:2009.52,22) {1928};
\node[lab, anchor=base] at (axis cs:2009.52,23) {1926};
\node[lab, anchor=base] at (axis cs:2009.52,24) {1911};
\node[lab, anchor=base] at (axis cs:2009.52,25) {1961};
\node[lab, anchor=base] at (axis cs:2009.52,26) {1934};
\node[lab, anchor=base] at (axis cs:2009.52,27) {1915};
\node[lab, anchor=base] at (axis cs:2009.52,28) {1924};
\node[lab, anchor=base] at (axis cs:2009.52,32) {1955};
\node[lab, anchor=base] at (axis cs:2009.52,34) {1921};
\node[lab, anchor=base] at (axis cs:2009.52,35) {1961};
\node[lab, anchor=base] at (axis cs:2009.52,36) {1957};
\node[lab, anchor=base] at (axis cs:2009.52,37) {1952};
\node[lab, anchor=base] at (axis cs:2009.52,38) {1949};
\node[lab, anchor=base] at (axis cs:2009.52,39) {1923};
\end{axis}
% ---------- top axis: tick labels above the plot ----------
\begin{axis}[
  at={(143.3pt,61.4pt)}, anchor=south west,
  scale only axis, width=661.7pt, height=1256.2pt,
  xmin=1895.7, xmax=2011.3, x dir=reverse, ymin=0, ymax=1,
  axis x line*=top, axis y line=none,
  axis line style={line width=0.9pt},
  tick align=outside, major tick length=10.5pt,
  every tick/.style={black, line width=0.9pt},
  xtick={1900,1915,1930,1945,1960,1975,1990,2005},
  /pgf/number format/1000 sep={}, /pgf/number format/assume math mode=true,
  tick label style={font=\fontsize{17.5}{18}\selectfont},
  xticklabel style={rotate=-90, anchor=east, inner xsep=10pt, inner ysep=0pt},
]
\addplot[draw=none, forget plot] coordinates {(2000,0.5)};
\end{axis}
\node[font=\fontsize{21}{22}\selectfont, anchor=base] at (479pt,1408.4pt) {Time (years)};
\end{tikzpicture}
\end{document}
